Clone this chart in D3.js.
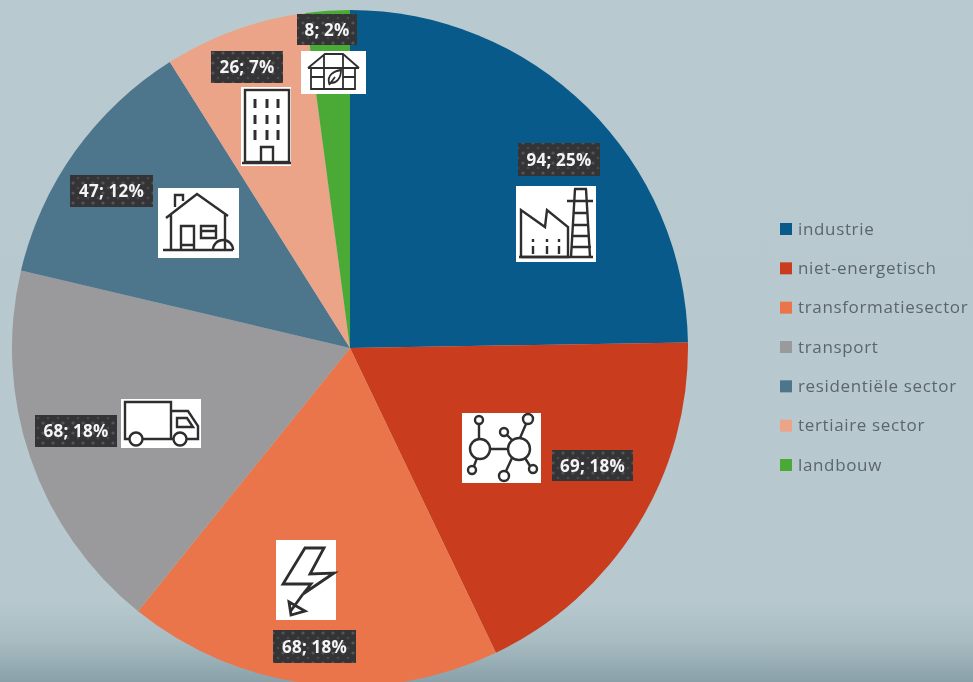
<!DOCTYPE html>
<html>
<head>
<meta charset="utf-8">
<script src="https://cdn.jsdelivr.net/npm/d3@7"></script>
<style>
html,body{margin:0;padding:0;background:#b7c9ce;overflow:hidden}
svg{display:block;filter:blur(0.7px)}
</style>
</head>
<body>
<script>
const categories = ["industrie","niet-energetisch","transformatiesector","transport","residentiële sector","tertiaire sector","landbouw"];
const values = [94,69,68,68,47,26,8];
const colors = ["#075a8a","#c93c1e","#ea754b","#9a9a9c","#4d758b","#eba488","#4aaa35"];
// label box and icon box placement: [x, y, width, height]
const labelBoxes = [[518,143,82,33],[552,450,81,31],[273,630,83,33],[35,415,82,32],[70,175,83,32],[211,51,72,32],[297,14,60,31]];
const iconBoxes = [[516,186,80,76],[462,413,79,70],[276,540,60,80],[121,399,80,49],[158,188,81,70],[241,87,50,79],[301,51,65,43]];
const iconKinds = ["factory","molecule","bolt","truck","house","office","greenhouse"];

const W=973,H=682,cx=350,cy=348,R=338;
const svg=d3.select("body").append("svg").attr("width",W).attr("height",H);
const defs=svg.append("defs");
const grad=defs.append("linearGradient").attr("id","bg").attr("x1",0).attr("x2",0).attr("y1",0).attr("y2",1);
[[0,"#b8cacf"],[0.88,"#b7c9ce"],[0.94,"#a8bcc1"],[1,"#8aa1aa"]].forEach(s=>grad.append("stop").attr("offset",s[0]).attr("stop-color",s[1]));
const pat=defs.append("pattern").attr("id","dots").attr("width",10).attr("height",10).attr("patternUnits","userSpaceOnUse");
pat.append("rect").attr("width",10).attr("height",10).attr("fill","#343436");
pat.append("circle").attr("cx",3).attr("cy",3).attr("r",1.6).attr("fill","#555558");
pat.append("circle").attr("cx",8).attr("cy",8).attr("r",1.3).attr("fill","#4a4a4d");

svg.append("rect").attr("width",W).attr("height",H).attr("fill","url(#bg)");

const total=d3.sum(values);
const pie=d3.pie().sort(null);
const arc=d3.arc().innerRadius(0).outerRadius(R);
const color=d3.scaleOrdinal(categories,colors);
const g=svg.append("g").attr("transform",`translate(${cx},${cy})`);
g.selectAll("path").data(pie(values)).join("path").attr("d",arc).attr("fill",(d,i)=>color(categories[i]));

// icons
const ink="#2e2e2e";
const icons={
 factory(s){
  s.append("path").attr("d","M5 71V24L29 41L31 24L52 41V71H5");
  s.append("path").attr("d","M58 3H71M59 3L55 71M70 3L74 71M56 15H73M51 15H77M57 27H72M56 39H73M55 50H74M55 61H75M3 71H77");
  [17,31,43].forEach(x=>s.append("path").attr("d",`M${x} 53V56M${x} 60V68`));
 },
 molecule(s){
  [[18,36,10],[57,36,11],[17,7,4],[66,6,5],[42,19,4],[10,57,4],[42,63,5],[71,56,4]].forEach(c=>s.append("circle").attr("cx",c[0]).attr("cy",c[1]).attr("r",c[2]));
  s.append("path").attr("d","M28 36H46M17 11V26M64 11L58 25M45 22L50 27M12 53L15 45M44 58L50 45M68 53L63 45");
 },
 bolt(s){
  s.attr("stroke-width",2.8);
  s.append("path").attr("d","M29 8H48L34 34L58 33L27 54L35 44L7 44Z");
  s.append("path").attr("d","M27 54L14 72M13 62L15 75L29 71Z");
 },
 truck(s){
  s.append("path").attr("d","M9 40H4V3H50V40H22M50 12H67L77 27V40H66M50 40H52");
  s.append("path").attr("d","M56 19H66L72 28H56Z");
  s.append("circle").attr("cx",15).attr("cy",40).attr("r",6.5);
  s.append("circle").attr("cx",59).attr("cy",40).attr("r",6.5);
 },
 house(s){
  s.append("path").attr("d","M8 30L39 6L70 28M13 27V62M67 26V62M5 62H75");
  s.append("path").attr("d","M23 62V38H36V62M23 57H36M43 38H58V50H43ZM43 43H58");
  s.append("path").attr("d","M17 19V7H25V13");
  s.append("path").attr("d","M55 62A10 10 0 0 1 75 62");
 },
 office(s){
  s.append("rect").attr("x",4).attr("y",3).attr("width",44).attr("height",72);
  s.append("path").attr("d","M20 75V60H32V75M1 76H50");
  const w=s.append("g").attr("stroke-width",3);
  [14,26,37].forEach(x=>[[12,21],[28,37],[43,53]].forEach(y=>w.append("path").attr("d",`M${x} ${y[0]}V${y[1]}`)));
 },
 greenhouse(s){
  s.attr("stroke-width",1.8);
  s.append("path").attr("d","M7 17L24 3H42L58 17M10 17V38H54V17M7 17H58M23 3V38M42 3V38M10 26H23M42 26H54");
  s.append("path").attr("d","M28 32C26 24 33 20 40 19C40 27 36 33 28 32ZM28 34L34 26");
 }
};
iconBoxes.forEach((b,i)=>{
  const s=svg.append("g").attr("transform",`translate(${b[0]},${b[1]})`);
  s.append("rect").attr("width",b[2]).attr("height",b[3]).attr("fill","#fff");
  const d=s.append("g").attr("fill","none").attr("stroke",ink).attr("stroke-width",2.4);
  icons[iconKinds[i]](d);
});

// data labels
const pct=d3.format(".0%");
const labels=svg.append("g");
labelBoxes.forEach((b,i)=>{
  labels.append("rect").attr("x",b[0]).attr("y",b[1]).attr("width",b[2]).attr("height",b[3]).attr("fill","url(#dots)");
  labels.append("text").attr("x",b[0]+b[2]/2).attr("y",b[1]+b[3]/2+6)
    .attr("text-anchor","middle").attr("font-family","'Open Sans',sans-serif").attr("font-size",17)
    .attr("font-weight",700).attr("letter-spacing",0.2).attr("fill","#f4f4f4")
    .text(`${values[i]}; ${pct(values[i]/total)}`);
});

// legend
const legendY=d3.scaleLinear().domain([0,6]).range([229,465]);
const leg=svg.append("g");
categories.forEach((c,i)=>{
  const y=legendY(i);
  leg.append("rect").attr("x",780).attr("y",y-6).attr("width",12).attr("height",12).attr("fill",colors[i]);
  leg.append("text").attr("x",798).attr("y",y+5.5).attr("font-family","'Open Sans',sans-serif")
    .attr("font-size",17).attr("letter-spacing",0.65).attr("fill","#5b666c").text(c);
});
</script>
</body>
</html>
